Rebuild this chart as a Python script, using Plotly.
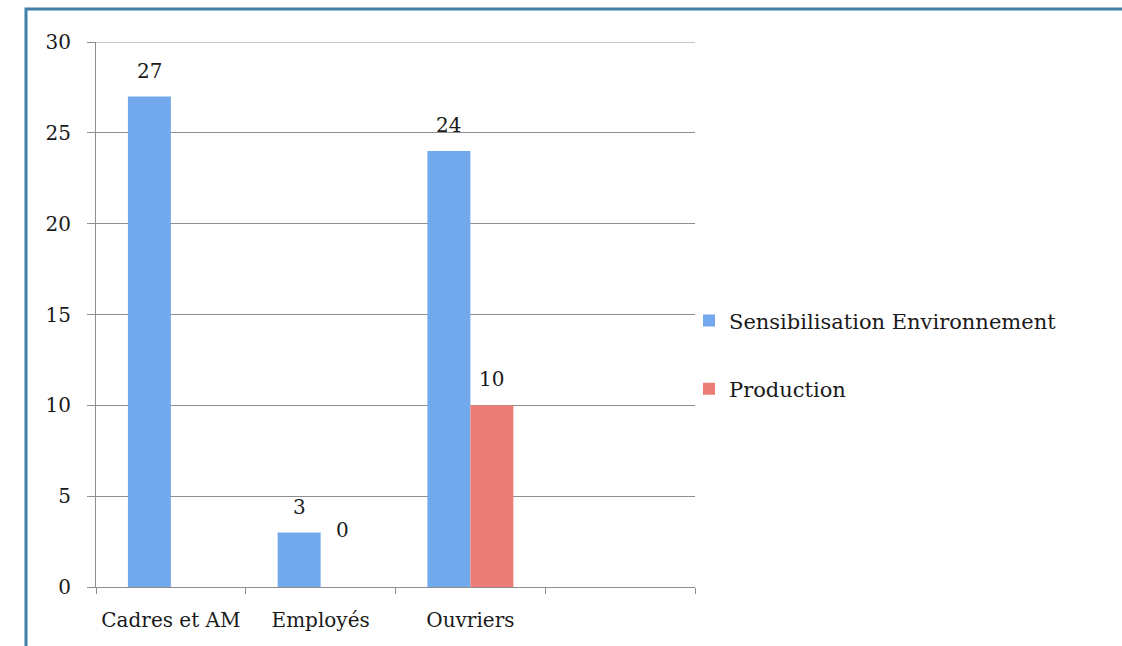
import plotly.graph_objects as go

categories = ["Cadres et AM", "Employés", "Ouvriers"]
sensibilisation = [27, 3, 24]
production = [None, 0, 10]
series_names = ["Sensibilisation Environnement", "Production"]
y_ticks = [0, 5, 10, 15, 20, 25, 30]

FONT = "DejaVu Serif"
TXT = "#1a1a1a"
GRID = "#8e8e8e"
BLUE = "#72a8ec"
RED = "#eb7d76"

W, H = 1122, 646
L, R, T, B = 96, 427, 42, 59
plot_w = W - L - R
plot_h = H - T - B

x_idx = list(range(len(categories)))
bargap = 0.426
half = (1 - bargap) / 2  # width of one bar in category units

fig = go.Figure()
fig.add_trace(go.Bar(x=x_idx, y=sensibilisation, name=series_names[0],
                     marker=dict(color=BLUE, line=dict(width=0)), legendgroup="a"))
fig.add_trace(go.Bar(x=x_idx, y=[v if v is not None else 0 for v in production],
                     name=series_names[1],
                     marker=dict(color=RED, line=dict(width=0)), legendgroup="b"))

annotations = []
for series, off in ((sensibilisation, -half / 2), (production, half / 2)):
    for i, v in zip(x_idx, series):
        if v is None:
            continue
        annotations.append(dict(x=i + off, y=v, xref="x", yref="y", text=str(v),
                                showarrow=False, yshift=26 if v else 57,
                                font=dict(family=FONT, size=20, color=TXT)))

fig.update_layout(
    width=W, height=H,
    margin=dict(l=L, r=R, t=T, b=B, autoexpand=False),
    paper_bgcolor="white", plot_bgcolor="white",
    barmode="group", bargap=bargap, bargroupgap=0,
    font=dict(family=FONT, size=20, color=TXT),
    showlegend=True,
    legend=dict(x=(689 - L) / plot_w, y=0.426, xanchor="left", yanchor="middle",
                font=dict(family=FONT, size=21, color=TXT),
                tracegroupgap=38, traceorder="grouped",
                bgcolor="rgba(0,0,0,0)", itemwidth=30),
    annotations=annotations,
    xaxis=dict(range=[-0.5, 3.5], tickmode="array", tickvals=x_idx, ticktext=categories,
               ticks="", showgrid=False, zeroline=False,
               showline=True, linecolor=GRID, linewidth=1,
               ticklabelstandoff=15,
               tickfont=dict(family=FONT, size=20, color=TXT),
               minor=dict(tick0=0.5, dtick=1, ticks="outside", ticklen=6,
                          tickcolor=GRID, showgrid=False)),
    yaxis=dict(range=[0, 30], tickmode="array", tickvals=y_ticks,
               showgrid=True, gridcolor=GRID, gridwidth=1, zeroline=False,
               showline=True, linecolor=GRID, linewidth=1,
               ticks="outside", ticklen=8, tickcolor=GRID,
               ticklabelstandoff=12,
               tickfont=dict(family=FONT, size=20, color=TXT)),
    shapes=[
        dict(type="rect", xref="paper", yref="paper",
             x0=(26 - L) / plot_w, x1=(W + 20 - L) / plot_w,
             y0=-(B + 20) / plot_h, y1=(H - B - 9) / plot_h,
             line=dict(color="#3f7fa8", width=3), fillcolor="rgba(0,0,0,0)",
             layer="below"),
        # gridline at the top tick (plotly skips the grid at the range edge)
        dict(type="line", xref="paper", yref="y", x0=0, x1=1,
             y0=y_ticks[-1], y1=y_ticks[-1],
             line=dict(color=GRID, width=1), layer="below"),
    ],
)

fig.write_html("out.html", config={"displayModeBar": False},
               post_script="document.body.style.margin='0';")
